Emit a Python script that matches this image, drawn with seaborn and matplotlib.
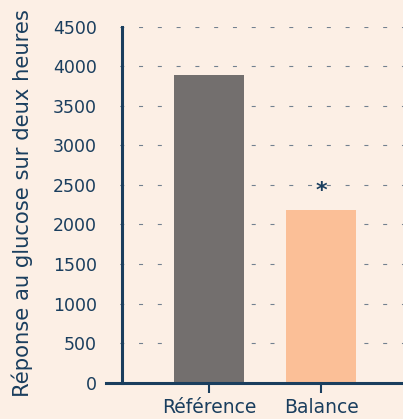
import numpy as np
import pandas as pd
import matplotlib
matplotlib.use("Agg")
import matplotlib.pyplot as plt
import seaborn as sns

# data
groups = ["Référence", "Balance"]
glucose_auc = [3890, 2180]
bar_colors = ["#736F6E", "#FBBF97"]
y_ticks = [0, 500, 1000, 1500, 2000, 2500, 3000, 3500, 4000, 4500]
ylabel = "Réponse au glucose sur deux heures"

bg = "#FCEFE5"
navy = "#1A3E5E"

sns.set_theme(style="white")
plt.rcParams["font.family"] = ["DejaVu Sans"]

df = pd.DataFrame({"groupe": groups, "valeur": glucose_auc})

fig = plt.figure(figsize=(4.03, 4.19), dpi=100, facecolor=bg)
ax = fig.add_axes([0.263, 0.0871, 0.737, 0.8485])
ax.set_facecolor(bg)

sns.barplot(data=df, x="groupe", y="valeur", hue="groupe", palette=bar_colors,
            width=0.625, saturation=1, linewidth=0, legend=False, ax=ax, zorder=3)

# significance marker above the second bar
ax.text(1, glucose_auc[1] + 240, "*", ha="center", va="center",
        fontsize=16, fontweight="bold", color=navy, zorder=4)

ax.set_xlim(-0.92, 1.73)
ax.set_ylim(0, 4500)
ax.set_yticks(y_ticks)
ax.set_xlabel("")
ax.set_ylabel(ylabel, fontsize=15.2, color=navy)
ax.yaxis.set_label_coords(-0.245, 0.505)

# dotted horizontal grid
ax.grid(axis="y", color="#50647A", linewidth=0.8, alpha=0.8,
        linestyle=(4.5, (3.6, 13.3)), zorder=0)
ax.grid(axis="x", visible=False)

for side in ["top", "right"]:
    ax.spines[side].set_visible(False)
ax.spines["left"].set_position(("data", -0.777))
for side in ["left", "bottom"]:
    ax.spines[side].set_color(navy)
    ax.spines[side].set_linewidth(2.2)
    ax.spines[side].set_zorder(5)

ax.tick_params(axis="y", length=0, pad=18, labelsize=12.5, labelcolor=navy)
ax.tick_params(axis="x", length=7, width=1.5, color=navy, pad=4,
               labelsize=13.5, labelcolor=navy, bottom=True)

fig.savefig("out.png", dpi=100, facecolor=bg)
